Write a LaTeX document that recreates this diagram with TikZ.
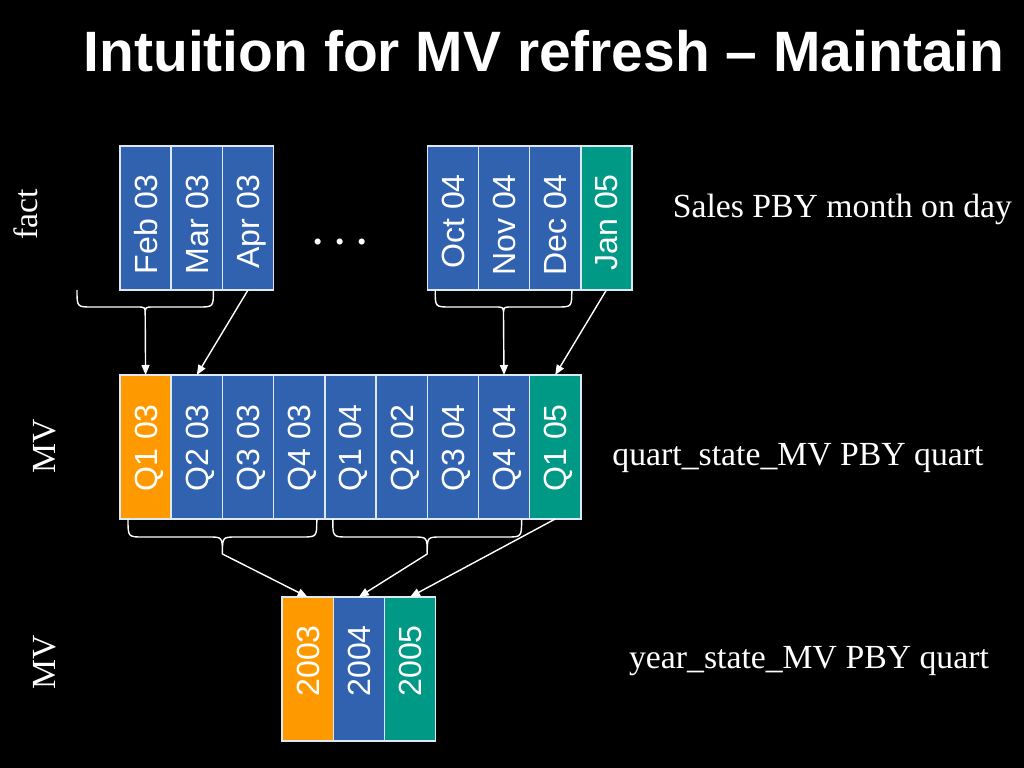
\documentclass[tikz,border=0pt]{standalone}
\usepackage{fontspec}
\setmainfont{Liberation Serif}
\setsansfont{Liberation Sans}
\usepackage{xcolor}
\usetikzlibrary{positioning,calc,arrows.meta}

\definecolor{cellblue}{HTML}{3162B0}
\definecolor{cellorange}{HTML}{FF9900}
\definecolor{cellteal}{HTML}{009985}
\definecolor{cellline}{HTML}{DCE8F4}

\newcommand{\cellfont}{\sffamily\fontsize{22.8}{27}\selectfont}
\newcommand{\notefont}{\rmfamily\fontsize{24}{29}\selectfont}

% brace under a group of cells: left end, right end, name of tip, drop, tip depth, inner radius
\newcommand{\quartbrace}[6]{%
  \coordinate (bl) at (#1);
  \coordinate (br) at (#2);
  \coordinate (bm) at ($(bl)!0.5!(br)$);
  \draw[bracepen] (bl) .. controls ([yshift=-#4]bl) .. ([shift={(0.375cm,-#4)}]bl)
    -- ([shift={(-#6,-#4)}]bm) .. controls ([yshift=-#4]bm) .. ([yshift=-#4-#5]bm) coordinate (#3)
    .. controls ([yshift=-#4]bm) .. ([shift={(#6,-#4)}]bm)
    -- ([shift={(-0.375cm,-#4)}]br) .. controls ([yshift=-#4]br) .. (br);
}

\begin{document}
\begin{tikzpicture}[
  cell/.style = {draw=cellline, line width=1pt, minimum width=1.28cm, minimum height=3.6cm,
    anchor=north west, inner sep=0pt, outer sep=0pt},
  celltext/.style = {rotate=90, anchor=east, text=white, font=\cellfont,
    text height=16.3pt, text depth=0pt, inner sep=0pt},
  note/.style = {text=white, font=\notefont, inner sep=0pt},
  bracepen/.style = {draw=white, line width=1pt},
  feed/.style = {draw=white, line width=1pt, -{Triangle[length=2.5mm,width=2mm]}}]

  \fill[black] (0,0) rectangle (25.6,-19.2);

  \node[text=white, font=\sffamily\bfseries\fontsize{40.5}{48}\selectfont, anchor=base, inner sep=0pt]
    (title) at (13.6,-1.8) {Intuition for MV refresh – Maintain};

  % fact rows
  \node[cell, fill=cellblue] (feb) at (3,-3.65) {};
  \node[cell, fill=cellblue, right=0pt of feb] (mar) {};
  \node[cell, fill=cellblue, right=0pt of mar] (apr) {};
  \node[cell, fill=cellblue] (oct) at (10.68,-3.65) {};
  \node[cell, fill=cellblue, right=0pt of oct] (nov) {};
  \node[cell, fill=cellblue, right=0pt of nov] (dec) {};
  \node[cell, fill=cellteal, right=0pt of dec] (jan) {};

  \node[celltext] (feb-t) at ([yshift=-0.7cm]feb.north) {Feb 03};
  \node[celltext] (mar-t) at ([yshift=-0.7cm]mar.north) {Mar 03};
  \node[celltext] (apr-t) at ([yshift=-0.7cm]apr.north) {Apr 03};
  \node[celltext] (oct-t) at ([yshift=-0.7cm]oct.north) {Oct 04};
  \node[celltext] (nov-t) at ([yshift=-0.7cm]nov.north) {Nov 04};
  \node[celltext] (dec-t) at ([yshift=-0.7cm]dec.north) {Dec 04};
  \node[celltext] (jan-t) at ([yshift=-0.7cm]jan.north) {Jan 05};

  \node[text=white, font=\rmfamily\bfseries\fontsize{26.5}{32}\selectfont, anchor=base, inner sep=0pt]
    (dots) at (8.5,-6.1) {. . .};

  % quarter MV
  \node[cell, fill=cellorange] (q103) at (3,-9.375) {};
  \node[cell, fill=cellblue, right=0pt of q103] (q203) {};
  \node[cell, fill=cellblue, right=0pt of q203] (q303) {};
  \node[cell, fill=cellblue, right=0pt of q303] (q403) {};
  \node[cell, fill=cellblue, right=0pt of q403] (q104) {};
  \node[cell, fill=cellblue, right=0pt of q104] (q204) {};
  \node[cell, fill=cellblue, right=0pt of q204] (q304) {};
  \node[cell, fill=cellblue, right=0pt of q304] (q404) {};
  \node[cell, fill=cellteal, right=0pt of q404] (q105) {};

  \node[celltext] (q103-t) at ([yshift=-0.725cm]q103.north) {Q1 03};
  \node[celltext] (q203-t) at ([yshift=-0.725cm]q203.north) {Q2 03};
  \node[celltext] (q303-t) at ([yshift=-0.725cm]q303.north) {Q3 03};
  \node[celltext] (q403-t) at ([yshift=-0.725cm]q403.north) {Q4 03};
  \node[celltext] (q104-t) at ([yshift=-0.725cm]q104.north) {Q1 04};
  \node[celltext] (q204-t) at ([yshift=-0.725cm]q204.north) {Q2 02};
  \node[celltext] (q304-t) at ([yshift=-0.725cm]q304.north) {Q3 04};
  \node[celltext] (q404-t) at ([yshift=-0.725cm]q404.north) {Q4 04};
  \node[celltext] (q105-t) at ([yshift=-0.725cm]q105.north) {Q1 05};

  % year MV
  \node[cell, fill=cellorange] (y2003) at (7.05,-14.925) {};
  \node[cell, fill=cellblue, right=0pt of y2003] (y2004) {};
  \node[cell, fill=cellteal, right=0pt of y2004] (y2005) {};

  \node[celltext] (y2003-t) at ([yshift=-0.7cm]y2003.north) {2003};
  \node[celltext] (y2004-t) at ([yshift=-0.7cm]y2004.north) {2004};
  \node[celltext] (y2005-t) at ([yshift=-0.7cm]y2005.north) {2005};

  % side labels
  \node[note, rotate=90, anchor=base] (fact-l) at (0.95,-5.35) {fact};
  \node[note, rotate=90, anchor=base] (qmv-l) at (1.375,-11.15) {MV};
  \node[note, rotate=90, anchor=base] (ymv-l) at (1.375,-16.55) {MV};

  \node[note, anchor=base] (fact-r) at (21.06,-5.425) {Sales PBY month on day};
  \node[note, anchor=base] (qmv-r) at (19.95,-11.625) {quart\_state\_MV PBY quart};
  \node[note, anchor=base] (ymv-r) at (20.225,-16.7) {year\_state\_MV PBY quart};

  % braces and arrows
  \quartbrace{[xshift=-1.075cm]feb.south west}{[xshift=-0.225cm]mar.south east}{tipq1}{0.425cm}{0.2cm}{0.2cm}
  \quartbrace{[xshift=0.2cm]oct.south west}{[xshift=-0.225cm]dec.south east}{tipq4}{0.425cm}{0.2cm}{0.2cm}
  \quartbrace{[xshift=0.2cm]q103.south west}{[xshift=-0.2cm]q403.south east}{tip03}{0.45cm}{0.425cm}{0.35cm}
  \quartbrace{[xshift=0.2cm]q104.south west}{[xshift=-0.2cm]q404.south east}{tip04}{0.45cm}{0.425cm}{0.35cm}

  \draw[feed] (tipq1) -- (q103.north);
  \draw[feed] (apr.south) -- (q203.north);
  \draw[feed] (tipq4) -- (q404.north);
  \draw[feed] (jan.south) -- (q105.north);

  \draw[feed] (tip03) -- (y2003.north);
  \draw[feed] (tip04) -- (y2004.north);
  \draw[feed] (q105.south) -- (y2005.north);
\end{tikzpicture}
\end{document}
